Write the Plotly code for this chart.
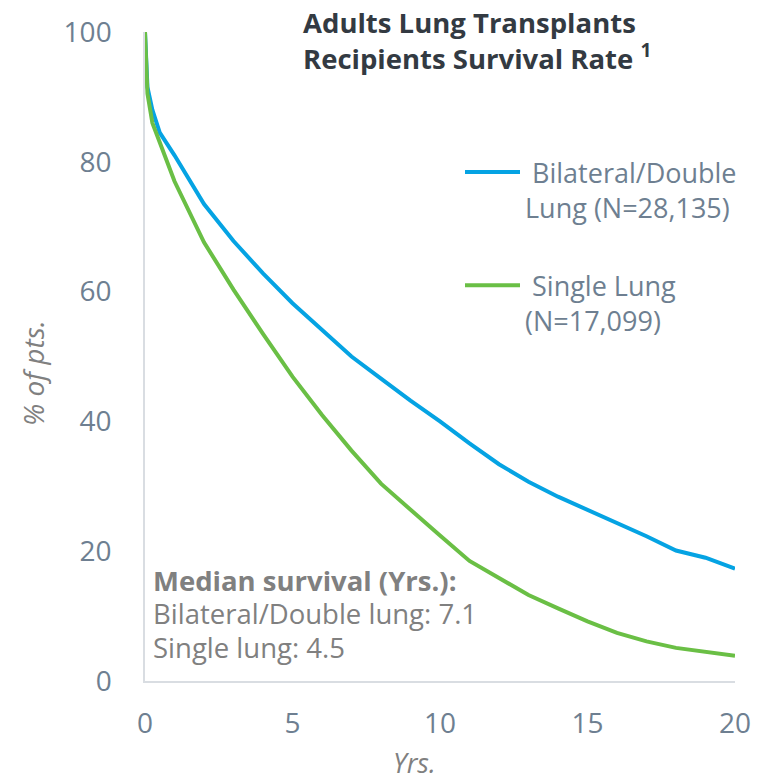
import plotly.graph_objects as go

years = [0, 0.083, 0.25, 0.5, 1, 2, 3, 4, 5, 6, 7, 8, 9, 10, 11, 12, 13, 14, 15, 16, 17, 18, 19, 20]
bilateral = [100, 91.5, 88, 84.5, 81, 73.5, 67.8, 62.8, 58.2, 54, 50, 46.6, 43.2, 40, 36.6, 33.4, 30.7, 28.4, 26.4, 24.4, 22.3, 20.1, 19.0, 17.3]
single = [100, 90.5, 86, 83, 77, 67.6, 60.3, 53.5, 46.9, 41, 35.5, 30.4, 26.3, 22.4, 18.5, 15.8, 13.25, 11.2, 9.2, 7.4, 6.1, 5.1, 4.5, 3.9]

series_names = ["\u00a0Bilateral/Double<br>Lung (N=28,135)", "\u00a0Single Lung<br>(N=17,099)"]
x_ticks = [0, 5, 10, 15, 20]
y_ticks = [0, 20, 40, 60, 80, 100]
median_lines = ["<b>Median survival (Yrs.):</b>", "Bilateral/Double lung: 7.1", "Single lung: 4.5"]

BLUE = "#05a3e3"
GREEN = "#6abf45"
TICK = "#6e7f91"
GRAY = "#808080"
FONT = "Open Sans"

# page has an 8px body margin; plot area spans page px 145..735 (x) and 32..681 (y)
OFF = 8
L, R, T, B = 145, 735, 32, 681


def px_x(p):
    return (p - L) / (R - L)


def px_y(p):
    return (B - p) / (B - T)


fig = go.Figure()
fig.add_trace(go.Scatter(x=years, y=bilateral, mode="lines", name=series_names[0],
                         legendgroup="a", line=dict(color=BLUE, width=4)))
fig.add_trace(go.Scatter(x=years, y=single, mode="lines", name=series_names[1],
                         legendgroup="b", line=dict(color=GREEN, width=4)))

W, H = 766 - OFF, 779 - OFF
fig.update_layout(
    width=W, height=H,
    margin=dict(l=L - OFF, r=W + OFF - R, t=T - OFF, b=H + OFF - B, autoexpand=False),
    plot_bgcolor="white", paper_bgcolor="white",
    font=dict(family=FONT, size=27, color=TICK),
    showlegend=True,
    legend=dict(x=px_x(460), y=px_y(148), xanchor="left", yanchor="top",
                font=dict(size=27, color=TICK), valign="top",
                tracegroupgap=40, itemwidth=55, bgcolor="rgba(0,0,0,0)"),
    xaxis=dict(range=[0, 20], tickvals=x_ticks, showgrid=False, zeroline=False,
               showline=True, linecolor="#d9dde2", linewidth=1.5, automargin=False,
               tickfont=dict(size=28, color=TICK), ticklabelstandoff=17),
    yaxis=dict(range=[0, 100], tickvals=y_ticks, showgrid=False, zeroline=False,
               showline=True, linecolor="#d9dde2", linewidth=1.5, automargin=False,
               tickfont=dict(size=28, color=TICK), ticklabelstandoff=26),
)

# axis titles
fig.add_annotation(xref="paper", yref="paper", x=px_x(414), y=px_y(762),
                   xanchor="center", yanchor="middle", showarrow=False, borderpad=0,
                   text="<i>Yrs.</i>", font=dict(family=FONT, size=27, color=GRAY))
fig.add_annotation(xref="paper", yref="paper", x=px_x(33), y=px_y(373),
                   xanchor="center", yanchor="middle", showarrow=False, textangle=-90,
                   text="<i>% of pts.</i>", font=dict(family=FONT, size=28, color=GRAY))

fig.add_annotation(xref="paper", yref="paper", x=px_x(302), y=px_y(3),
                   xanchor="left", yanchor="top", align="left", showarrow=False, borderpad=0,
                   text="<b>Adults Lung Transplants<br>Recipients Survival Rate <sup>1</sup></b>",
                   font=dict(family=FONT, size=27.5, color="#333a42"))

for i, (line, yc) in enumerate(zip(median_lines, [580, 613, 647])):
    fig.add_annotation(xref="paper", yref="paper", x=px_x(152),
                       y=px_y(yc), xanchor="left", yanchor="middle", borderpad=0,
                       align="left", showarrow=False, text=line,
                       font=dict(family=FONT, size=27.5, color=GRAY))

fig.write_html("out.html")
